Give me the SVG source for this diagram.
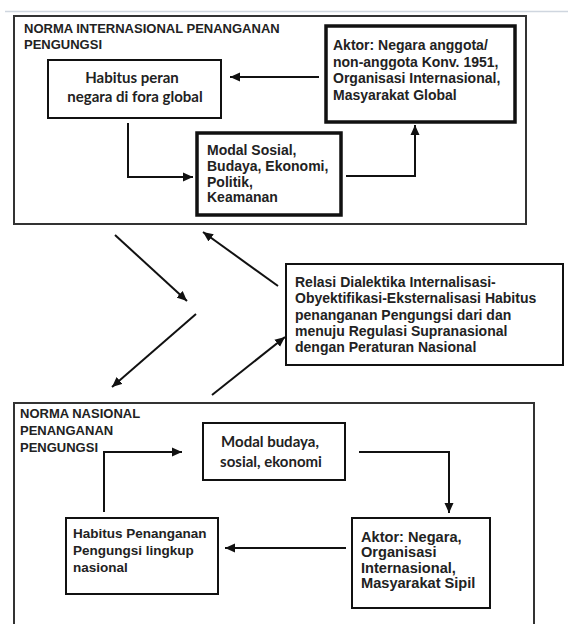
<svg xmlns="http://www.w3.org/2000/svg" width="568" height="624" viewBox="0 0 568 624">
<style>
.frame{fill:none;stroke:#333;stroke-width:2}
.box{fill:#fff;stroke:#111;stroke-width:2}
.thick{fill:#fff;stroke:#111;stroke-width:3.5}
.t{font-family:"Liberation Sans",Arial,sans-serif;font-weight:bold;font-size:13px;fill:#222}
.t14{font-size:14px}
.t135{font-size:13.5px}
.t145{font-size:14.6px}
.c{font-family:Lato,"Open Sans",sans-serif;font-weight:bold;font-size:15px;fill:#222;text-anchor:middle}
.ln{fill:none;stroke:#111;stroke-width:2;marker-end:url(#ah)}
.dg{fill:none;stroke:#111;stroke-width:2;marker-end:url(#ah)}
</style>
<defs>
<marker id="ah" markerUnits="userSpaceOnUse" markerWidth="12" markerHeight="10" refX="10" refY="5" orient="auto">
<path d="M0,0.5 L10,5 L0,9.5 Z" fill="#111"/>
</marker>
</defs>
<rect width="568" height="624" fill="#fff"/>
<line x1="5" y1="11.5" x2="568" y2="11.5" stroke="#cfd6df" stroke-width="1.5"/>

<g id="norma-internasional">
<rect class="frame" x="14" y="16" width="512" height="208"/>
<text class="t" x="24" y="33">NORMA INTERNASIONAL PENANGANAN</text>
<text class="t" x="24" y="49">PENGUNGSI</text>
</g>

<g id="habitus-global">
<rect class="box" x="48" y="60" width="173" height="58"/>
<text class="c" x="132" y="83">Habitus peran</text>
<text class="c" x="135" y="102">negara di fora global</text>
</g>

<g id="modal-sosial">
<rect class="thick" x="197" y="133" width="144" height="82"/>
<text class="t t14" x="207" y="155">Modal Sosial,</text>
<text class="t t14" x="207" y="171">Budaya, Ekonomi,</text>
<text class="t t14" x="207" y="187">Politik,</text>
<text class="t t14" x="207" y="202">Keamanan</text>
</g>

<g id="aktor-global">
<rect class="thick" x="326" y="26" width="189" height="96"/>
<text class="t t14" x="333" y="50">Aktor: Negara anggota/</text>
<text class="t t14" x="333" y="67">non-anggota Konv. 1951,</text>
<text class="t t14" x="333" y="83">Organisasi Internasional,</text>
<text class="t t14" x="333" y="100">Masyarakat Global</text>
</g>

<g id="relasi">
<rect class="box" x="286" y="264" width="277" height="101"/>
<text class="t t14" x="295" y="287">Relasi Dialektika Internalisasi-</text>
<text class="t t14" x="295" y="303">Obyektifikasi-Eksternalisasi Habitus</text>
<text class="t t14" x="295" y="320">penanganan Pengungsi dari dan</text>
<text class="t t14" x="295" y="336">menuju Regulasi Supranasional</text>
<text class="t t14" x="295" y="352">dengan Peraturan Nasional</text>
</g>

<g id="norma-nasional">
<rect class="frame" x="14" y="403" width="520" height="240"/>
<text class="t" x="20" y="418">NORMA NASIONAL</text>
<text class="t" x="20" y="435">PENANGANAN</text>
<text class="t" x="20" y="452">PENGUNGSI</text>
</g>

<g id="modal-budaya">
<rect class="box" x="203" y="423" width="142" height="57"/>
<text class="c" x="270" y="447">Modal budaya,</text>
<text class="c" x="271" y="467">sosial, ekonomi</text>
</g>

<g id="aktor-nasional">
<rect class="box" x="352" y="518" width="138" height="90"/>
<text class="t t145" x="361" y="542">Aktor: Negara,</text>
<text class="t t145" x="361" y="557">Organisasi</text>
<text class="t t145" x="361" y="573">Internasional,</text>
<text class="t t145" x="361" y="588">Masyarakat Sipil</text>
</g>

<g id="habitus-nasional">
<rect class="box" x="66" y="518" width="152" height="76"/>
<text class="t t135" x="73" y="538">Habitus Penanganan</text>
<text class="t t135" x="73" y="555">Pengungsi lingkup</text>
<text class="t t135" x="73" y="572">nasional</text>
</g>

<g id="connectors">
<path class="ln" d="M319,77 L230,77"/>
<path class="ln" d="M128,123 L128,177 L193,177"/>
<path class="ln" d="M346,176 L415,176 L415,125"/>
<path class="dg" d="M115,235 L187,301"/>
<path class="dg" d="M196,314 L112,387"/>
<path class="dg" d="M278,286 L203,232"/>
<path class="dg" d="M212,395 L285,337"/>
<path class="ln" d="M104,512 L104,452 L182,452"/>
<path class="ln" d="M359,452 L449,452 L449,513"/>
<path class="ln" d="M346,548 L225,548"/>
</g>
</svg>
